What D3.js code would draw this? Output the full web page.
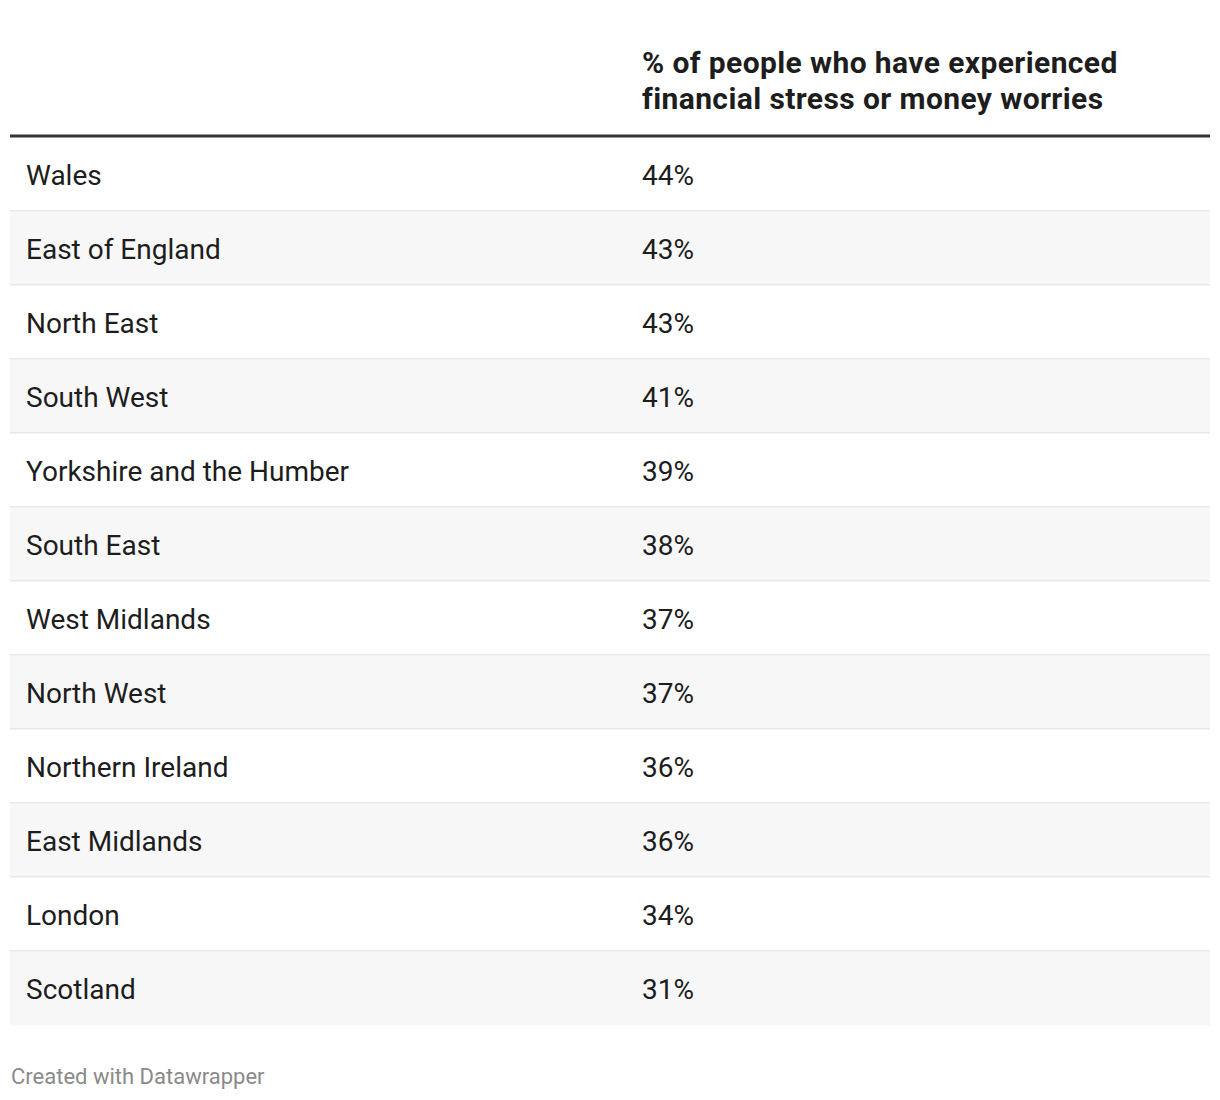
<!DOCTYPE html>
<html>
<head>
<meta charset="utf-8">
<script src="https://cdn.jsdelivr.net/npm/d3@7"></script>
<style>
  html, body { margin: 0; padding: 0; background: #fff; }
  svg { display: block; font-family: Roboto, "Noto Sans", sans-serif; }
</style>
</head>
<body>
<svg id="chart" width="1220" height="1100"></svg>
<script>
const regions = ["Wales", "East of England", "North East", "South West", "Yorkshire and the Humber",
  "South East", "West Midlands", "North West", "Northern Ireland", "East Midlands", "London", "Scotland"];
const values = [44, 43, 43, 41, 39, 38, 37, 37, 36, 36, 34, 31];
const headerLines = ["% of people who have experienced", "financial stress or money worries"];
const footerText = "Created with Datawrapper";

(function () {
const svg = d3.select("#chart");
const left = 10, right = 1210, col2 = 642;
const tableTop = 137.5, rowH = 74;

const y = d3.scaleBand().domain(regions).range([tableTop, tableTop + rowH * regions.length]).padding(0);

// header
svg.append("g").selectAll("text").data(headerLines).join("text")
  .attr("x", col2).attr("y", (d, i) => 73 + i * 36)
  .attr("font-size", 30).attr("font-weight", 700).attr("letter-spacing", 0.4).attr("fill", "#1d1d1d")
  .text(d => d);

const rows = svg.append("g").selectAll("g").data(regions).join("g")
  .attr("transform", d => `translate(0,${y(d)})`);

rows.append("rect").attr("x", left).attr("y", 0).attr("width", right - left).attr("height", y.bandwidth())
  .attr("fill", (d, i) => i % 2 ? "#f7f7f7" : "#ffffff");
rows.filter((d, i) => i < regions.length - 1).append("line")
  .attr("x1", left).attr("x2", right).attr("y1", y.bandwidth() - 0.5).attr("y2", y.bandwidth() - 0.5)
  .attr("stroke", "#e3e3e3").attr("stroke-width", 1.5);
rows.append("text").attr("x", 26).attr("y", y.bandwidth() / 2 + 10)
  .attr("font-size", 28).attr("fill", "#1d1d1d").text(d => d);
rows.append("text").attr("x", col2).attr("y", y.bandwidth() / 2 + 10)
  .attr("font-size", 28).attr("fill", "#1d1d1d").text((d, i) => values[i] + "%");

// header rule
svg.append("line").attr("x1", left).attr("x2", right).attr("y1", 136).attr("y2", 136)
  .attr("stroke", "#333333").attr("stroke-width", 3);

svg.append("text").attr("x", 11).attr("y", 1084).attr("font-size", 22).attr("fill", "#8a8a8a").text(footerText);
})();
</script>
</body>
</html>
